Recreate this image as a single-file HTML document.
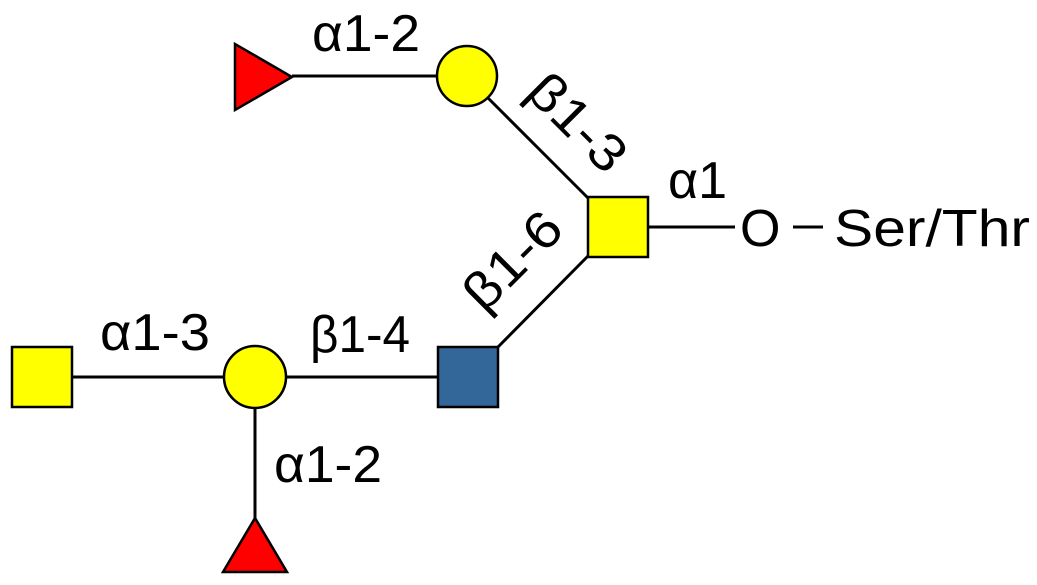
<!DOCTYPE html>
<html><head><meta charset="utf-8"><style>html,body{margin:0;padding:0;background:#fff;}svg{display:block}</style></head>
<body>
<svg width="1037" height="585" viewBox="0 0 1037 585" xmlns="http://www.w3.org/2000/svg" font-family="Liberation Sans, sans-serif" fill="#000">
<g stroke="#000" stroke-width="3">
<line x1="292" y1="76" x2="440" y2="76"/>
<line x1="488" y1="98" x2="588" y2="198"/>
<line x1="648" y1="227" x2="735" y2="227"/>
<line x1="793" y1="227" x2="823" y2="227"/>
<line x1="498" y1="347" x2="588" y2="256"/>
<line x1="72" y1="377" x2="440" y2="377"/>
<line x1="255" y1="400" x2="255" y2="520"/>
</g>
<g stroke="#000" stroke-width="2.5">
<polygon points="235,44 235,110 292,77" fill="#f00"/>
<circle cx="467" cy="76" r="30" fill="#ff0"/>
<rect x="588" y="197" width="60" height="60" fill="#ff0"/>
<rect x="438" y="347" width="60" height="60" fill="#336699"/>
<rect x="12" y="347" width="60" height="60" fill="#ff0"/>
<circle cx="255" cy="377" r="31" fill="#ff0"/>
<polygon points="255,518 223,572 287,572" fill="#f00"/>
</g>
<g font-size="52">
<text x="312" y="51" textLength="108" lengthAdjust="spacingAndGlyphs">α1-2</text>
<text x="100" y="350" textLength="110" lengthAdjust="spacingAndGlyphs">α1-3</text>
<text x="310" y="352" textLength="100" lengthAdjust="spacingAndGlyphs">β1-4</text>
<text x="274" y="482" textLength="108" lengthAdjust="spacingAndGlyphs">α1-2</text>
<text x="668" y="198">α1</text>
<text transform="translate(524,94) rotate(45)" textLength="116" lengthAdjust="spacingAndGlyphs">β1-3</text>
<text transform="translate(484,314) rotate(-45)" textLength="116" lengthAdjust="spacingAndGlyphs">β1-6</text>
</g>
<g font-size="52">
<text x="740" y="246">O</text>
<text x="834" y="246" textLength="196" lengthAdjust="spacingAndGlyphs">Ser/Thr</text>
</g>
</svg>
</body></html>
